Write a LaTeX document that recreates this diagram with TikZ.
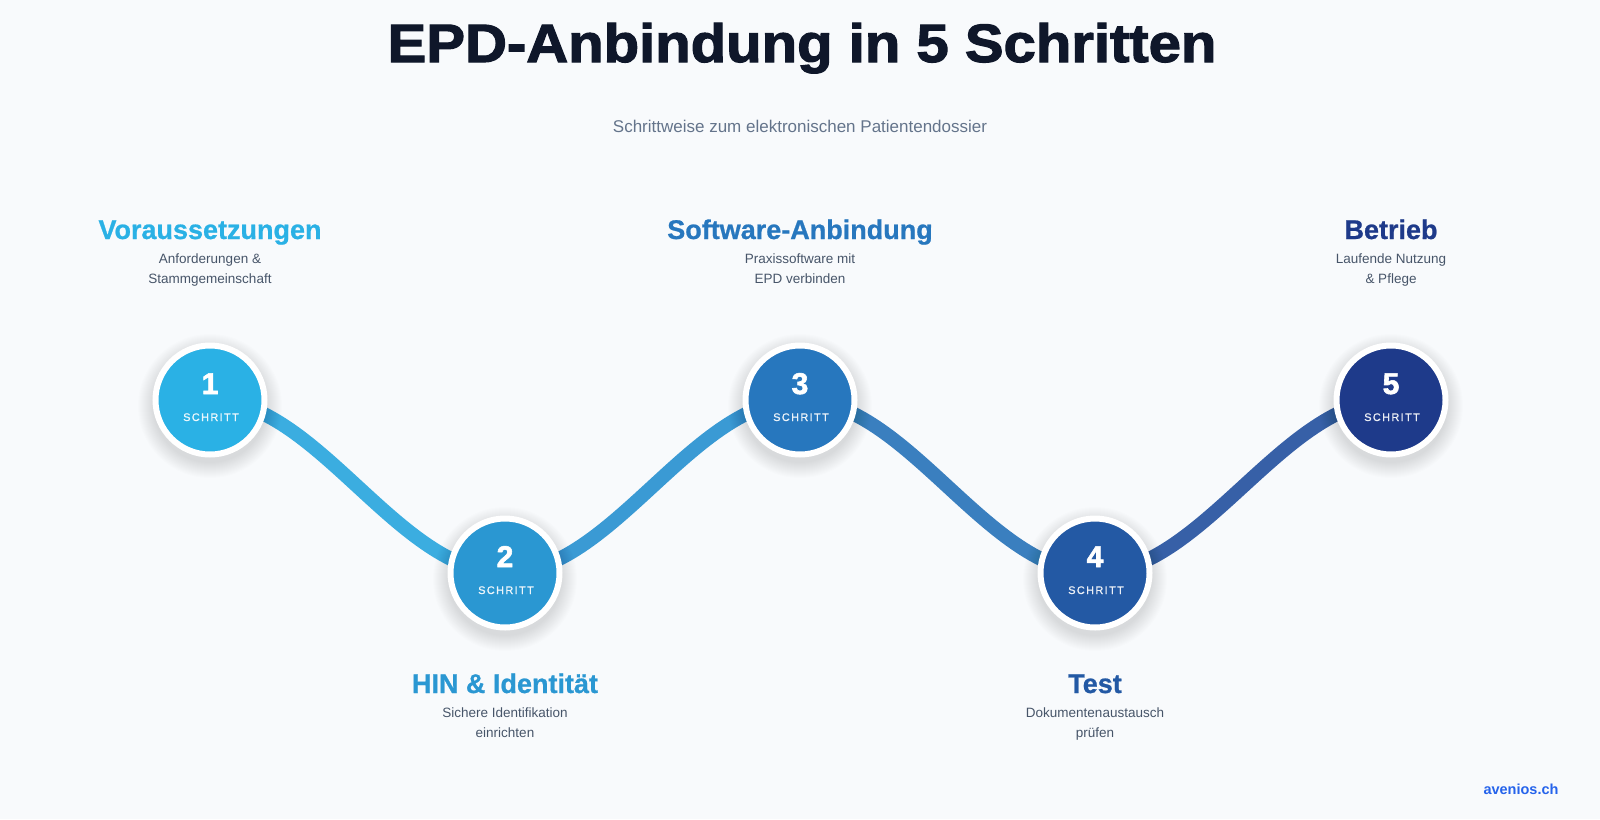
\documentclass[tikz,border=0pt]{standalone}
\usepackage{fontspec}
\setmainfont{Liberation Sans}
\newfontfamily\heavyfont[BoldFeatures={FakeBold=2}]{Liberation Sans}
\newfontfamily\semifont[BoldFeatures={FakeBold=0.8}]{Liberation Sans}
\newfontfamily\medfont[FakeBold=0.6,LetterSpace=12]{Liberation Sans}
\usetikzlibrary{calc}
\definecolor{bg}{HTML}{F8FAFC}
\definecolor{titlec}{HTML}{0F172A}
\definecolor{subc}{HTML}{64748B}
\definecolor{descc}{HTML}{475569}
\definecolor{cA}{HTML}{2AB1E5}
\definecolor{cB}{HTML}{2A97D2}
\definecolor{cC}{HTML}{2777BE}
\definecolor{cD}{HTML}{2359A4}
\definecolor{cE}{HTML}{1E3A8A}
\definecolor{wA}{HTML}{3BADE0}
\definecolor{wB}{HTML}{3A9AD4}
\definecolor{wC}{HTML}{3A7FBF}
\definecolor{wD}{HTML}{3760A7}
\definecolor{brand}{HTML}{2563EB}
\tikzset{
  wave/.style={line width=14pt, line cap=butt},
  stepcircle/.style={circle, draw=white, line width=6pt, minimum size=109pt, inner sep=0pt},
  numtext/.style={anchor=base, text=white, font=\heavyfont\bfseries\fontsize{30}{30}\selectfont},
  schrittext/.style={anchor=base, text=white, text opacity=0.9, font=\medfont\fontsize{11}{12}\selectfont},
  steptitle/.style={anchor=base, font=\semifont\bfseries\fontsize{27}{30}\selectfont},
  desctext/.style={anchor=base, text=descc, font=\fontsize{13.5}{16}\selectfont},
}
\begin{document}
\begin{tikzpicture}[x=1pt,y=-1pt]
\fill[bg] (0,0) rectangle (1600,819);
\useasboundingbox (0,0) rectangle (1600,819);

% title
\node[anchor=base, text=titlec] (title) at (802,62)
  {\scalebox{1.075}[1]{\heavyfont\bfseries\fontsize{54}{60}\selectfont EPD-Anbindung in 5 Schritten}};
\node[anchor=base, text=subc, font=\fontsize{17}{20}\selectfont] (sub) at (800,132)
  {Schrittweise zum elektronischen Patientendossier};

% centres
\coordinate (p1) at (210,400);
\coordinate (p2) at (505,573);
\coordinate (p3) at (800,400);
\coordinate (p4) at (1095,573);
\coordinate (p5) at (1391,400);

% wave
\draw[wave, wA] (p1) .. controls +(107,0) and +(-107,0) .. (p2);
\draw[wave, wB] (p2) .. controls +(107,0) and +(-107,0) .. (p3);
\draw[wave, wC] (p3) .. controls +(107,0) and +(-107,0) .. (p4);
\draw[wave, wD] (p4) .. controls +(107,0) and +(-107,0) .. (p5);

% soft shadows
\foreach \p in {p1,p2,p3,p4,p5}{
  \foreach \r in {57,58,...,72}{
    \fill[black, opacity=0.007] ($(\p)+(0,6)$) circle[radius=\r];
  }
}

% circles
\node[stepcircle, fill=cA] (s1) at (p1) {};
\node[stepcircle, fill=cB] (s2) at (p2) {};
\node[stepcircle, fill=cC] (s3) at (p3) {};
\node[stepcircle, fill=cD] (s4) at (p4) {};
\node[stepcircle, fill=cE] (s5) at (p5) {};

\foreach \p/\n in {p1/1,p2/2,p3/3,p4/4,p5/5}{
  \node[numtext] (n\n) at ($(\p)+(0,-6)$) {\n};
  \node[schrittext] (k\n) at ($(\p)+(1,21)$) {SCHRITT};
}

% top labels
\node[steptitle, text=cA] (t1) at (210,239) {Voraussetzungen};
\node[desctext] (d1a) at (210,263) {Anforderungen \&};
\node[desctext] (d1b) at (210,283) {Stammgemeinschaft};

\node[steptitle, text=cC] (t3) at (800,239) {Software-Anbindung};
\node[desctext] (d3a) at (800,263) {Praxissoftware mit};
\node[desctext] (d3b) at (800,283) {EPD verbinden};

\node[steptitle, text=cE] (t5) at (1391,239) {Betrieb};
\node[desctext] (d5a) at (1391,263) {Laufende Nutzung};
\node[desctext] (d5b) at (1391,283) {\& Pflege};

% bottom labels
\node[steptitle, text=cB] (t2) at (505,693) {HIN \& Identität};
\node[desctext] (d2a) at (505,717) {Sichere Identifikation};
\node[desctext] (d2b) at (505,737) {einrichten};

\node[steptitle, text=cD] (t4) at (1095,693) {Test};
\node[desctext] (d4a) at (1095,717) {Dokumentenaustausch};
\node[desctext] (d4b) at (1095,737) {prüfen};

% brand
\node[anchor=base east, text=brand, font=\bfseries\fontsize{14.5}{16}\selectfont] (brand) at (1562,794) {avenios.ch};
\end{tikzpicture}
\end{document}
